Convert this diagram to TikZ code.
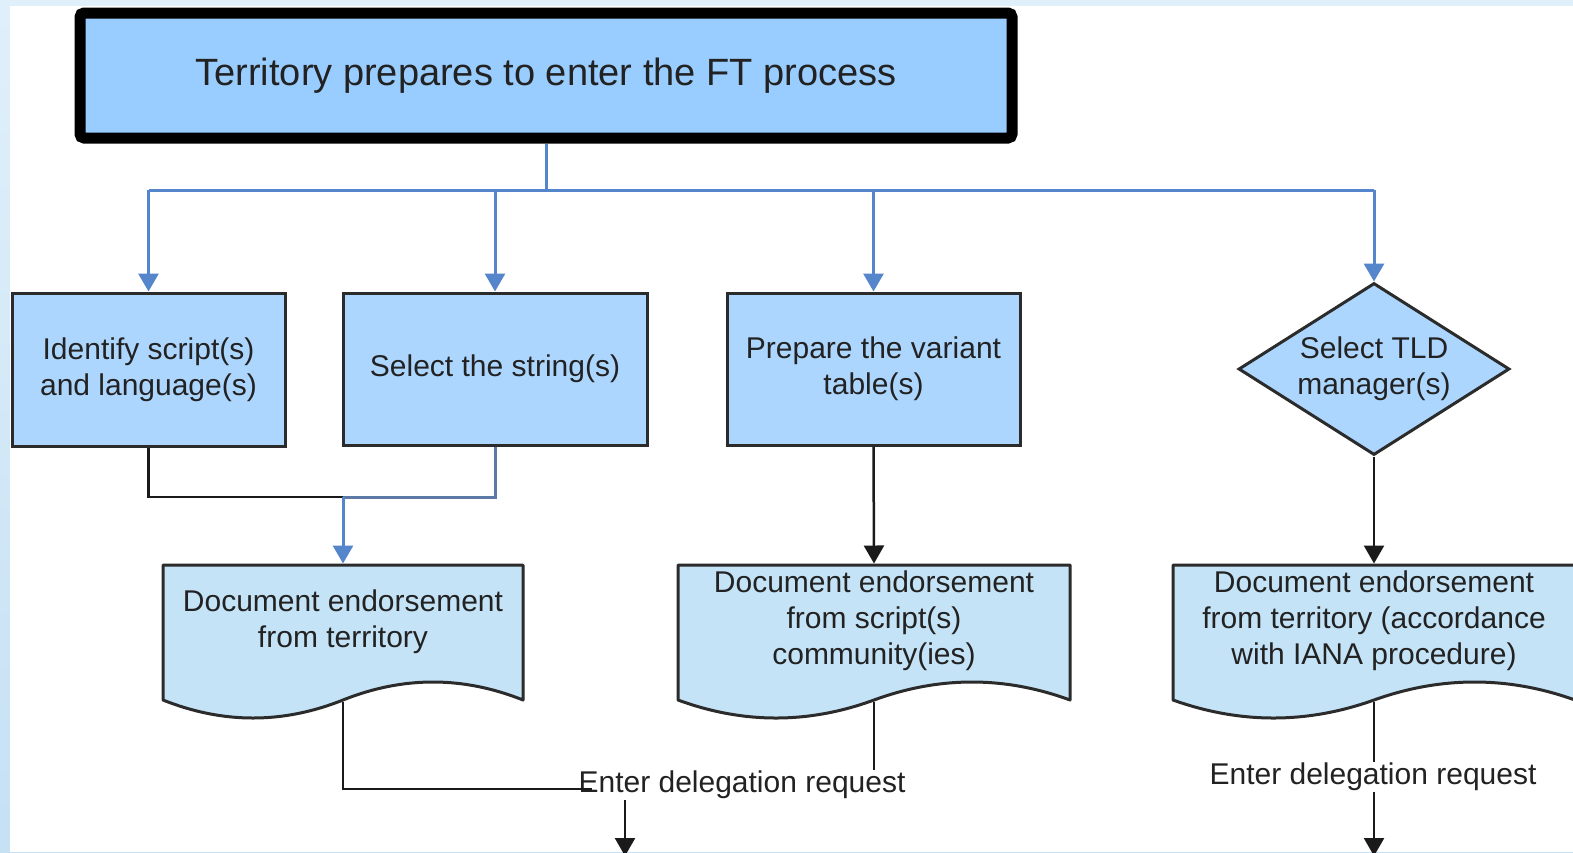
\documentclass[tikz,border=0pt]{standalone}
\usepackage{fontspec}
\setmainfont{Liberation Sans}
\usetikzlibrary{arrows.meta,shapes.geometric}

\definecolor{edgeTop}{HTML}{E0F0FA}
\definecolor{edgeBot}{HTML}{C6E0F4}
\definecolor{topfill}{HTML}{99CCFF}
\definecolor{boxfill}{HTML}{ADD6FF}
\definecolor{docfill}{HTML}{C4E3F7}
\definecolor{boxline}{HTML}{2B2B2B}
\definecolor{connblue}{HTML}{5585CB}
\definecolor{connslate}{HTML}{5D7AA6}
\definecolor{connblack}{HTML}{1A1A1A}
\definecolor{txt}{HTML}{222222}

% document symbol: left, right, top, wave mid-line
\newcommand\docoutline[4]{%
  \filldraw[docline] (#1,#3) -- (#2,#3) -- (#2,#4)
    .. controls ({#2-(#2-#1)/6},{#4-24}) and ({#2-(#2-#1)/3},{#4-24}) .. ({(#1+#2)/2},#4)
    .. controls ({#1+(#2-#1)/3},{#4+24}) and ({#1+(#2-#1)/6},{#4+24}) .. (#1,#4) -- cycle;}

\begin{document}
\begin{tikzpicture}[x=1pt,y=-1pt,
  txtfont/.style={font=\fontsize{30}{36}\selectfont, text=txt},
  topbox/.style={draw=black, line width=11pt, fill=topfill, rounded corners=4pt,
    minimum width=932pt, minimum height=125pt, inner sep=0pt,
    font=\fontsize{38}{44}\selectfont, text=txt},
  flowbox/.style={txtfont, draw=boxline, line width=3pt, fill=boxfill,
    align=center, inner sep=0pt},
  decision/.style={draw=boxline, line width=3pt, fill=boxfill, shape=diamond,
    inner sep=0pt, minimum width=271pt, minimum height=172pt},
  docbox/.style={minimum height=135pt, inner sep=0pt, outer sep=1.5pt},
  docline/.style={draw=boxline, line width=3pt, fill=docfill, line join=round},
  doctext/.style={txtfont, align=center, inner sep=0pt},
  reqtext/.style={txtfont, inner sep=1pt},
  tip/.style={-{Triangle[width=20pt,length=18pt]}},
  bluelink/.style={draw=connblue, line width=3pt},
  slatelink/.style={draw=connslate, line width=3pt},
  blacklink/.style={draw=connblack, line width=2.5pt},
]
\useasboundingbox (0,0) rectangle (1573,852);

% page background and white sheet
\shade[top color=edgeTop, bottom color=edgeBot] (0,0) rectangle (1573,852);
\fill[white] (10,6) rectangle (1573,852);

% start
\node[topbox] (top) at (546,75.5) {Territory prepares to enter the FT process};

% process steps
\node[flowbox, minimum width=273pt, minimum height=153pt] (b1) at (148.5,369.5)
  {Identify script(s)\\and language(s)};
\node[flowbox, minimum width=304pt, minimum height=152pt] (b2) at (495,369)
  {Select the string(s)};
\node[flowbox, minimum width=293pt, minimum height=152pt] (b3) at (873.5,369)
  {Prepare the variant\\table(s)};
\node[decision] (tld) at (1374,369) {};
\node[doctext] (tldt) at (tld.center) {Select TLD\\manager(s)};

% documents
\node[docbox, minimum width=360pt] (d1) at (343,632.5) {};
\node[docbox, minimum width=392pt] (d2) at (874,632.5) {};
\node[docbox, minimum width=402pt] (d3) at (1374,632.5) {};
\docoutline{163}{523}{565}{700}
\docoutline{678}{1070}{565}{700}
\docoutline{1173}{1575}{565}{700}
\node[doctext] (d1t) at (343,622) {Document endorsement\\from territory};
\node[doctext] (d2t) at (874,621) {Document endorsement\\from script(s)\\community(ies)};
\node[doctext] (d3t) at (1374,621) {Document endorsement\\from territory (accordance\\with IANA procedure)};

% delegation requests
\node[reqtext] (req1) at (742,785) {Enter delegation request};
\node[reqtext] (req2) at (1373,777) {Enter delegation request};

% junctions and outgoing ends
\coordinate (busL) at (148.5,190);
\coordinate (busR) at (1374,190);
\coordinate (mrg) at (343,497);
\coordinate (e1) at (592,789);
\coordinate (out1) at (625,856);
\coordinate (out2) at (1374,856);

% fan-out from the start
\draw[bluelink] (top.south) -- (top.south |- busL);
\draw[bluelink] (busL) -- (busR);
\draw[bluelink, tip, fill=connblue] (busL) -- (b1.north);
\draw[bluelink, tip, fill=connblue] (b2.north |- busL) -- (b2.north);
\draw[bluelink, tip, fill=connblue] (b3.north |- busL) -- (b3.north);
\draw[bluelink, tip, fill=connblue] (busR) -- (tld.north);

% into the documents
\draw[blacklink] (b1.south) |- (mrg);
\draw[slatelink] (b2.south) |- (mrg);
\draw[bluelink, tip] (mrg) -- (d1.north);
\draw[blacklink, tip] (b3.south) -- (d2.north);
\draw[blacklink, tip] (tld.south) -- (d3.north);

% out of the documents
\draw[blacklink] (d1.south) |- (e1);
\draw[blacklink] (d2.south) -- (d2.south |- req1.north);
\draw[blacklink, tip] (req1.south -| out1) -- (out1);
\draw[blacklink] (d3.south) -- (d3.south |- req2.north);
\draw[blacklink, tip] (d3.south |- req2.south) -- (out2);
\end{tikzpicture}
\end{document}
